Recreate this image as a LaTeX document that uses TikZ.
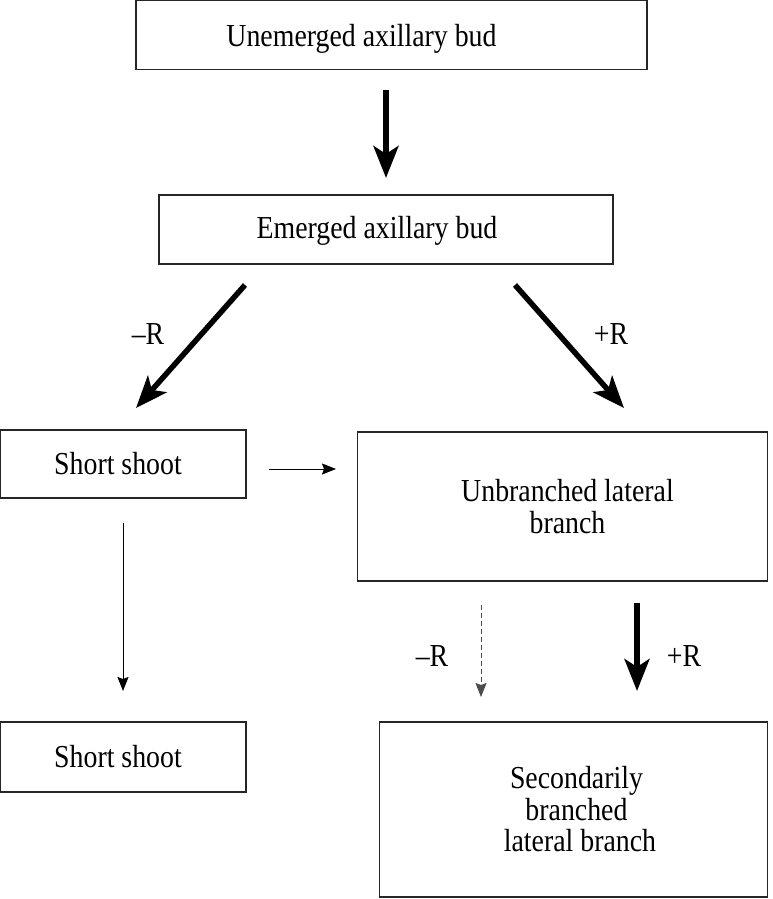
\documentclass[tikz,border=0pt]{standalone}
\usepackage{fontspec}
\setmainfont{Liberation Serif}[FakeStretch=0.87]
\usepackage{tikz}
\usetikzlibrary{arrows.meta}

\begin{document}
\begin{tikzpicture}[x=1pt, y=-1pt,
    box/.style={draw, line width=1.3pt, draw=black!85, inner sep=0pt},
    txt/.style={align=center, inner sep=0pt, font=\fontsize{32}{31.5}\selectfont},
    bigarrow/.style={line width=5.5pt, -{Stealth[length=32pt, width=25pt, inset=8pt]}},
    thinarrow/.style={line width=0.9pt, -{Stealth[length=14pt, width=11pt, inset=2pt]}}]
    \useasboundingbox (0,0) rectangle (772,899);

    % Boxes
    \node[box, minimum width=511pt, minimum height=69pt] (bud) at (391.5,35) {};
    \node[box, minimum width=454pt, minimum height=69pt] (emerged) at (386,229.5) {};
    \node[box, minimum width=246pt, minimum height=68pt] (short1) at (123,464) {};
    \node[box, minimum width=410pt, minimum height=149pt] (unbranched) at (562.5,506.5) {};
    \node[box, minimum width=246pt, minimum height=70pt] (short2) at (123,757) {};
    \node[box, minimum width=388pt, minimum height=175pt] (secondary) at (573.5,809.5) {};

    % Box texts
    \node[txt, xshift=-30pt, yshift=-3.5pt] (budtxt) at (bud) {Unemerged axillary bud};
    \node[txt, xshift=-9pt, yshift=-1pt] (emergedtxt) at (emerged) {Emerged axillary bud};
    \node[txt, xshift=-5pt] (short1txt) at (short1) {Short shoot};
    \node[txt, xshift=5pt] (unbranchedtxt) at (unbranched) {Unbranched lateral\\branch};
    \node[txt, xshift=-5pt] (short2txt) at (short2) {Short shoot};
    \node[txt, xshift=3pt] (secondarytxt) at (secondary) {Secondarily\\branched\\\ lateral branch};

    % Arrow end points
    \coordinate (a1) at (386,90);   \coordinate (b1) at (386,178);
    \coordinate (a2) at (245,285);  \coordinate (b2) at (136,408);
    \coordinate (a3) at (515,285);  \coordinate (b3) at (624,408);
    \coordinate (a4) at (269,469);  \coordinate (b4) at (336,469);
    \coordinate (a5) at (123,523);  \coordinate (b5) at (123,691);
    \coordinate (a6) at (481,605);  \coordinate (b6) at (481,697);
    \coordinate (a7) at (637,603);  \coordinate (b7) at (637,691);

    % Arrows
    \draw[bigarrow] (a1) -- (b1);
    \draw[bigarrow] (a2) -- (b2);
    \draw[bigarrow] (a3) -- (b3);
    \draw[thinarrow] (a4) -- (b4);
    \draw[thinarrow] (a5) -- (b5);
    \draw[thinarrow, gray!60!black, line width=0.8pt, dash pattern=on 5pt off 3pt] (a6) -- (b6);
    \draw[bigarrow] (a7) -- (b7);

    % Labels
    \node[txt] (minus1) at (148,334) {--R};
    \node[txt] (plus1) at (611,334) {+R};
    \node[txt] (minus2) at (432,656) {--R};
    \node[txt] (plus2) at (684,656) {+R};
\end{tikzpicture}
\end{document}
